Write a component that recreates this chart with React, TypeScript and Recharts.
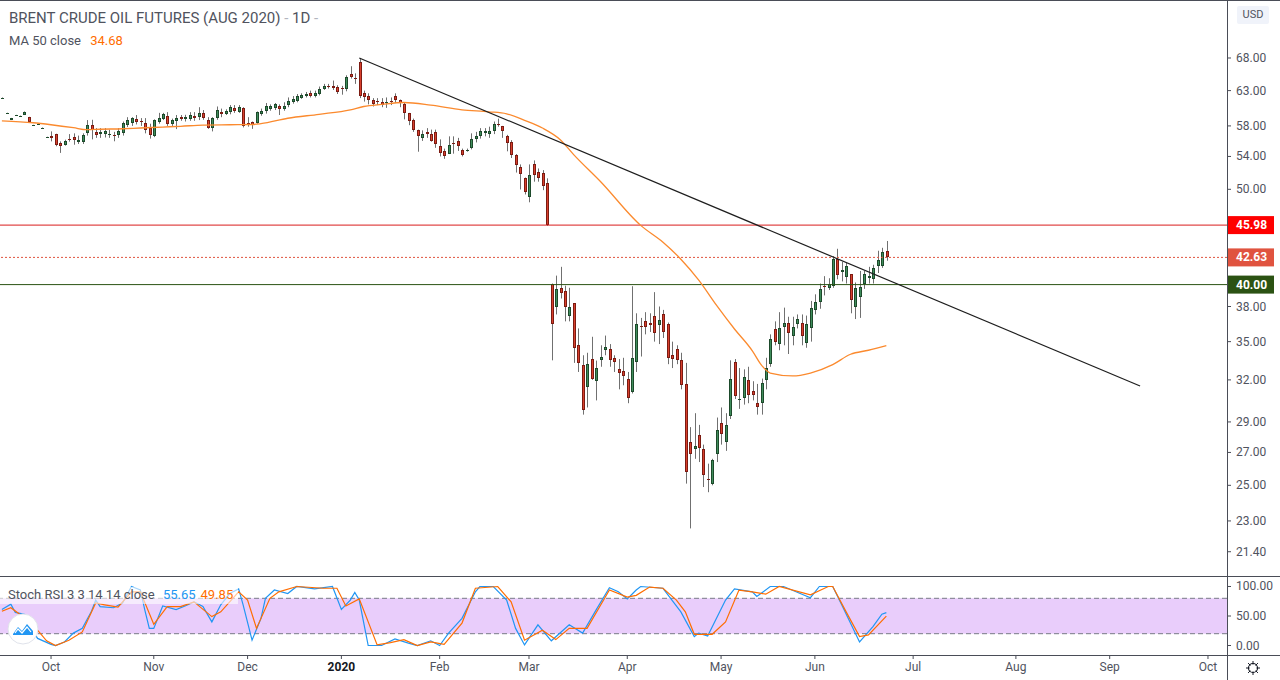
import React from 'react';
import { ComposedChart, Bar, Line, XAxis, YAxis, ReferenceLine, ReferenceArea } from 'recharts';

// daily OHLC, Brent Aug 2020, from mid Sep 2019 to 23 Jun 2020 (bar index = trading day)
const opens = [
  61.9, 59.75, 58.84, 59.47, 59.37, 59.57, 59.21, 58.1, 58.28, 57.74,
  56.5, 56.69, 56.9, 55.73, 55.42, 56.29, 56.52, 55.81, 55.81, 57.0,
  58.12, 57.2, 56.9, 56.95, 56.95, 56.8, 56.73, 57.0, 58.12, 58.35,
  58.97, 58.69, 58.38, 57.7, 56.6, 58.5, 58.9, 59.35, 58.2, 58.67,
  59.21, 58.9, 58.9, 59.4, 59.21, 59.83, 58.84, 57.7, 59.07, 59.9,
  59.7, 59.87, 60.5, 59.98, 60.46, 58.4, 58.47, 58.38, 59.7, 60.0,
  60.37, 60.46, 60.7, 60.37, 60.94, 61.3, 61.55, 61.99, 62.2, 62.67,
  62.28, 62.48, 63.2, 63.68, 63.7, 63.55, 63.38, 63.2, 65.5, 64.92,
  67.3, 62.62, 62.2, 61.65, 61.42, 61.4, 61.2, 61.5, 62.2, 61.65,
  61.06, 59.77, 58.84, 57.4, 56.4, 57.2, 56.9, 57.14, 55.3, 54.65,
  54.35, 55.76, 56.03, 54.87, 54.7, 55.1, 56.25, 56.6, 57.1, 56.9,
  57.3, 58.26, 57.95, 56.7, 55.86, 54.23, 52.65, 51.3, 49.1, 53.1,
  52.1, 51.96, 50.7, 40.04, 38.0, 39.7, 39.37, 37.2, 38.3, 34.74,
  33.15, 31.5, 33.6, 31.9, 33.55, 34.3, 34.4, 33.7, 32.84, 32.7,
  32.1, 31.1, 33.4, 36.3, 36.75, 36.6, 37.2, 36.4, 37.3, 36.5,
  33.9, 34.4, 33.5, 31.7, 27.7, 27.2, 28.1, 27.2, 25.4, 25.1,
  26.9, 28.9, 27.7, 29.4, 33.4, 30.5, 30.7, 32.0, 31.2, 30.3,
  30.3, 32.0, 33.2, 36.05, 34.8, 36.2, 36.6, 35.5, 36.5, 36.6,
  34.9, 36.1, 37.7, 38.4, 39.9, 39.7, 39.9, 42.5, 41.2, 40.7,
  41.0, 38.0, 38.9, 40.1, 40.6, 40.5, 41.8, 41.8, 43.3,
];
const highs = [
  62.0, 59.82, 59.1, 59.52, 59.42, 60.0, 59.25, 58.15, 58.33, 57.79,
  56.55, 57.26, 56.95, 55.94, 56.16, 56.9, 57.0, 56.7, 57.0, 58.8,
  58.84, 57.7, 57.7, 57.7, 57.49, 57.2, 57.7, 58.6, 59.2, 59.2,
  59.5, 59.07, 59.07, 58.3, 58.9, 59.8, 59.8, 59.9, 59.0, 59.5,
  59.5, 59.53, 59.9, 59.9, 60.6, 60.2, 59.2, 59.2, 60.7, 60.4,
  60.3, 60.9, 60.9, 60.9, 60.6, 59.2, 58.6, 60.0, 60.4, 61.2,
  61.0, 61.2, 61.0, 61.3, 62.0, 62.2, 62.5, 62.6, 62.8, 63.0,
  63.0, 63.6, 64.0, 64.0, 64.5, 63.8, 63.7, 65.3, 66.7, 65.6,
  68.0, 63.0, 62.6, 61.9, 61.9, 61.9, 62.0, 62.0, 62.6, 61.7,
  61.3, 59.8, 59.0, 57.5, 57.4, 57.7, 57.5, 57.5, 56.2, 55.0,
  56.6, 56.6, 56.4, 55.0, 55.0, 57.0, 57.2, 57.7, 57.7, 57.9,
  58.6, 59.0, 58.0, 56.8, 56.1, 54.3, 53.0, 51.4, 53.0, 53.5,
  52.5, 52.3, 51.3, 40.1, 40.85, 41.7, 39.9, 39.7, 38.3, 36.1,
  33.9, 34.1, 35.4, 33.48, 34.7, 35.5, 34.8, 33.9, 33.6, 33.7,
  32.6, 39.85, 37.4, 37.0, 37.5, 37.4, 39.3, 38.0, 37.7, 36.6,
  35.0, 34.7, 34.1, 33.3, 28.65, 29.6, 28.8, 27.5, 26.3, 26.6,
  29.3, 30.0, 29.6, 33.5, 33.6, 32.9, 32.8, 33.0, 31.9, 31.7,
  32.1, 33.7, 35.6, 36.7, 37.5, 37.9, 37.1, 37.1, 37.3, 37.3,
  37.2, 38.5, 39.1, 40.1, 40.8, 40.6, 42.75, 43.5, 42.2, 42.1,
  41.0, 40.2, 41.3, 41.3, 41.7, 41.9, 43.3, 43.6, 44.3,
];
const lows = [
  61.85, 59.72, 58.8, 59.45, 59.35, 59.5, 58.55, 58.08, 58.26, 57.72,
  56.48, 55.94, 55.3, 54.45, 55.38, 55.9, 55.5, 55.6, 55.6, 56.7,
  56.2, 56.4, 56.4, 56.45, 56.4, 55.95, 56.4, 56.7, 57.85, 58.0,
  58.2, 58.0, 57.0, 56.3, 56.5, 58.3, 58.8, 58.0, 58.0, 57.57,
  58.7, 58.6, 58.7, 58.7, 58.8, 58.84, 57.6, 57.26, 58.84, 59.2,
  59.5, 59.6, 59.8, 59.8, 57.8, 57.9, 57.6, 58.3, 59.4, 59.7,
  60.1, 60.2, 59.5, 60.1, 60.6, 61.1, 61.3, 61.8, 62.0, 62.0,
  62.0, 62.3, 63.1, 63.3, 63.1, 62.5, 62.4, 62.9, 64.8, 64.0,
  61.9, 61.4, 61.0, 60.7, 60.9, 60.6, 60.5, 60.9, 61.2, 60.6,
  58.9, 58.1, 57.2, 54.6, 56.0, 56.4, 55.9, 55.1, 54.0, 53.7,
  54.3, 54.35, 54.7, 54.0, 54.6, 54.9, 55.8, 56.3, 56.6, 56.4,
  56.9, 57.9, 56.4, 54.65, 53.8, 52.0, 49.98, 49.4, 48.5, 50.9,
  50.9, 49.9, 45.9, 33.5, 37.3, 38.72, 36.7, 36.7, 33.3, 32.6,
  29.5, 30.0, 32.0, 30.5, 33.0, 33.9, 33.0, 32.6, 31.3, 31.6,
  30.3, 31.0, 32.6, 33.8, 35.6, 35.8, 35.0, 34.8, 35.3, 33.2,
  32.9, 33.2, 31.3, 25.1, 22.6, 26.6, 26.4, 24.9, 24.6, 25.0,
  26.4, 27.5, 27.1, 29.2, 30.6, 29.9, 30.2, 30.3, 30.5, 29.5,
  29.5, 31.3, 33.0, 34.7, 34.3, 34.7, 34.0, 34.7, 36.1, 34.7,
  34.5, 35.0, 37.3, 37.8, 39.0, 39.5, 39.7, 40.5, 40.3, 40.1,
  37.4, 36.9, 37.0, 39.6, 40.1, 40.1, 41.1, 41.6, 42.3,
];
const closes = [
  61.95, 59.8, 59.07, 59.5, 59.4, 59.9, 58.6, 58.12, 58.3, 57.76,
  56.52, 56.34, 55.51, 55.3, 56.03, 56.07, 56.07, 56.16, 56.82, 58.12,
  57.4, 56.73, 57.2, 57.25, 56.97, 56.76, 57.35, 58.38, 58.8, 59.1,
  58.6, 58.65, 57.4, 56.73, 58.8, 59.1, 59.66, 58.27, 58.8, 59.14,
  58.94, 59.21, 59.44, 59.05, 59.83, 59.07, 57.7, 59.11, 60.23, 59.7,
  60.1, 60.56, 60.13, 60.66, 57.95, 58.36, 58.16, 59.9, 60.1, 60.7,
  60.84, 61.03, 60.33, 60.84, 61.45, 61.8, 62.28, 62.38, 62.57, 62.28,
  62.62, 63.26, 63.74, 63.63, 63.35, 62.86, 63.34, 65.0, 65.1, 64.88,
  62.2, 62.1, 61.65, 61.06, 61.38, 60.94, 61.4, 61.3, 61.6, 61.2,
  59.8, 58.7, 57.4, 56.6, 56.9, 56.95, 56.0, 55.6, 54.5, 54.1,
  55.5, 55.7, 55.3, 54.23, 54.85, 56.3, 56.7, 57.26, 57.35, 57.35,
  58.26, 58.08, 57.3, 55.73, 54.15, 52.9, 51.85, 49.7, 51.76, 51.7,
  51.3, 50.37, 45.98, 36.5, 39.58, 39.2, 37.96, 37.96, 34.5, 33.3,
  29.8, 33.2, 32.1, 32.9, 33.8, 34.6, 33.5, 33.4, 32.5, 32.3,
  30.7, 33.7, 36.5, 36.2, 36.2, 36.4, 35.7, 36.8, 35.8, 33.7,
  33.6, 33.55, 31.6, 25.8, 26.9, 27.4, 27.3, 25.6, 25.3, 26.5,
  28.45, 28.2, 28.8, 32.1, 30.8, 30.6, 32.2, 30.9, 30.9, 30.05,
  31.8, 32.9, 35.2, 34.95, 36.1, 36.55, 35.7, 36.2, 36.9, 35.5,
  36.5, 37.9, 38.4, 39.6, 39.8, 40.1, 42.45, 40.9, 41.35, 41.8,
  38.6, 39.7, 39.8, 41.0, 40.8, 41.6, 42.35, 43.2, 42.63,
];

// MA 50 close, read at sample bars
const maIdx = [0, 7, 11, 16, 19, 22, 27, 31, 36, 40, 45, 51, 56, 58, 64, 71, 78, 81, 85, 90, 96, 103, 109, 113, 117, 121, 125, 128, 134, 143, 148, 152, 156, 160, 164, 168, 170, 172, 177, 181, 186, 190, 194, 198];
const maVals = [58.7, 58.43, 58.16, 57.76, 57.49, 57.55, 57.62, 57.72, 57.85, 57.95, 58.12, 58.16, 58.19, 58.3, 59.05, 59.6, 60.23, 60.7, 61.0, 61.27, 60.9, 60.23, 59.95, 59.67, 58.77, 57.72, 56.16, 54.23, 50.92, 45.95, 44.17, 42.45, 40.42, 38.1, 36.05, 34.25, 33.14, 32.52, 32.3, 32.52, 33.17, 33.98, 34.3, 34.68];

// trend line end points
const trendIdx = [80, 254.8];
const trendVals = [68.0, 31.55];

// Stoch RSI %K and %D
const kIdx = [0, 2, 3, 5, 6, 8, 11, 12, 14, 16, 18, 20, 21, 22, 25, 27, 29, 31, 32, 33, 34, 36, 39, 41, 43, 45, 47, 49, 51, 53, 54, 56, 58, 59, 61, 64, 66, 70, 74, 76, 78, 79, 80, 82, 85, 88, 91, 93, 96, 98, 100, 103, 106, 107, 110, 113, 115, 117, 120, 123, 127, 130, 133, 136, 138, 140, 142, 143, 148, 150, 152, 155, 156, 158, 162, 164, 168, 169, 172, 175, 181, 183, 186, 188, 192, 195, 197, 198];
const kVals = [61, 70, 56, 53, 35, 12, 2, 0, 6, 21, 29, 57, 77, 66, 64, 72, 100, 94, 60, 29, 29, 67, 61, 67, 74, 66, 40, 69, 88, 96, 69, 9, 46, 80, 94, 88, 100, 96, 100, 61, 77, 90, 77, 0, 0, 11, 4, 0, 8, 0, 21, 46, 91, 100, 100, 77, 29, 1, 35, 8, 35, 21, 60, 98, 91, 79, 94, 100, 97, 77, 57, 15, 21, 16, 77, 96, 91, 83, 100, 100, 81, 100, 100, 69, 6, 32, 53, 55.65];
const dIdx = [0, 2, 4, 7, 10, 12, 15, 18, 21, 23, 26, 29, 31, 34, 37, 40, 43, 47, 49, 53, 55, 57, 60, 62, 66, 72, 75, 77, 80, 84, 87, 90, 93, 96, 99, 103, 106, 111, 114, 117, 121, 124, 127, 131, 136, 140, 142, 145, 148, 151, 153, 155, 159, 162, 165, 168, 171, 174, 181, 185, 186, 189, 192, 194, 198];
const dVals = [58, 64, 53, 35, 8, 0, 9, 23, 72, 69, 65, 91, 91, 36, 66, 66, 74, 49, 57, 91, 77, 29, 80, 91, 100, 97, 97, 67, 79, 1, 5, 10, 0, 6, 2, 38, 97, 100, 74, 9, 26, 10, 29, 29, 94, 82, 85, 99, 97, 77, 57, 19, 19, 40, 94, 91, 87, 100, 86, 100, 100, 57, 15, 18, 49.85];

const priceTicks = [68, 63, 58, 54, 50, 45.98, 42.63, 40, 38, 35, 32, 29, 27, 25, 23, 21.4];
const stochTicks = [0, 50, 100];
const monthIdx = [11, 34, 55, 76, 98, 118, 140, 161, 182, 204, 227, 248, 270];
const monthLabels = ['Oct', 'Nov', 'Dec', '2020', 'Feb', 'Mar', 'Apr', 'May', 'Jun', 'Jul', 'Aug', 'Sep', 'Oct'];

const candles = opens.map((o, i) => ({ i, o, h: highs[i], l: lows[i], c: closes[i], range: [lows[i], highs[i]] }));
const maData = maIdx.map((i, n) => ({ i, v: maVals[n] }));
const trendData = trendIdx.map((i, n) => ({ i, v: trendVals[n] }));
const kData = kIdx.map((i, n) => ({ i, v: kVals[n] }));
const dData = dIdx.map((i, n) => ({ i, v: dVals[n] }));

const X_DOMAIN = [-0.425, 274.26];
const TEXT = '#50535e';
const LINE = '#4a4d57';
const TAGS: Record<string, string> = { '45.98': '#ff0000', '42.63': '#e0533f', '40': '#2b5213' };

const Candle = (props: any) => {
  const { x, y, width, height, payload } = props;
  if (x == null || y == null || !payload) return null;
  const top = Math.min(y, y + height);
  const bot = Math.max(y, y + height);
  const lh = Math.log(payload.h);
  const ll = Math.log(payload.l);
  const py = (v: number) => (lh === ll ? top : top + ((lh - Math.log(v)) / (lh - ll)) * (bot - top));
  const up = payload.c >= payload.o;
  const cx = Math.round(x + width / 2);
  const bTop = Math.round(Math.min(py(payload.o), py(payload.c)));
  const bBot = Math.round(Math.max(py(payload.o), py(payload.c)));
  const fill = up ? '#3f8d5c' : '#d8402d';
  const border = up ? '#1d4a2b' : '#7c1b12';
  return (
    <g>
      <line x1={cx + 0.5} x2={cx + 0.5} y1={top} y2={bot} stroke="#707070" strokeWidth={1} />
      {bBot - bTop < 3 ? (
        <rect x={cx - 1} y={bTop} width={3} height={Math.max(1, bBot - bTop)} fill={border} />
      ) : (
        <rect x={cx - 0.5} y={bTop + 0.5} width={2} height={bBot - bTop - 1} fill={fill} stroke={border} strokeWidth={1} />
      )}
    </g>
  );
};

const AxisTick = (props: any) => {
  const { x, y, payload } = props;
  const v = payload.value;
  const tag = TAGS[String(v)];
  const label = Number(v).toFixed(2);
  if (tag) {
    return (
      <g>
        <line x1={x - 9} x2={x - 7} y1={y} y2={y} stroke={tag} />
        <rect x={x - 8} y={y - 9} width={46} height={18} fill={tag} />
        <text x={x} y={y} dy={4} fill="#fff" fontSize={12} fontWeight="bold">{label}</text>
      </g>
    );
  }
  return (
    <g>
      <line x1={x - 9} x2={x - 5} y1={y} y2={y} stroke={LINE} />
      <text x={x} y={y} dy={4} fill={TEXT} fontSize={12}>{label}</text>
    </g>
  );
};

const MonthTick = (props: any) => {
  const { x, y, payload } = props;
  const label = monthLabels[monthIdx.indexOf(payload.value)];
  const strong = label === '2020';
  return (
    <text x={x} y={y} dy={10} textAnchor="middle" fontSize={12} fill={strong ? '#131722' : TEXT} fontWeight={strong ? 'bold' : 'normal'}>
      {label}
    </text>
  );
};

const App: React.FC = () => {
  return (
    <div style={{ position: 'relative', width: 1280, height: 680, background: '#fff', overflow: 'hidden', fontFamily: "Roboto, 'Liberation Sans', sans-serif" }}>
      <style>{'body{margin:0}'}</style>

      <div style={{ position: 'absolute', left: 0, top: 0 }}>
        <ComposedChart width={1280} height={577} data={candles} margin={{ top: 0, right: 0, bottom: 0, left: 0 }}>
          <XAxis dataKey="i" type="number" domain={X_DOMAIN} allowDataOverflow hide />
          <YAxis orientation="right" width={53} scale="log" domain={[20.17, 77.89]} allowDataOverflow ticks={priceTicks} interval={0}
            tick={<AxisTick />} tickLine={false} axisLine={false} tickSize={9} tickMargin={0} />
          <ReferenceLine y={45.98} stroke="#d91c1c" />
          <ReferenceLine y={42.63} stroke="#e0533f" strokeDasharray="2 2" />
          <ReferenceLine y={40} stroke="#2b5213" />
          <Bar dataKey="range" barSize={3} shape={Candle} isAnimationActive={false} />
          <Line data={maData} dataKey="v" type="monotone" stroke="#fb8a2e" strokeWidth={1.3} dot={false} activeDot={false} isAnimationActive={false} />
          <Line data={trendData} dataKey="v" type="linear" stroke="#1e1e1e" strokeWidth={1.2} dot={false} activeDot={false} isAnimationActive={false} />
        </ComposedChart>
      </div>

      <div style={{ position: 'absolute', left: 0, top: 577 }}>
        <ComposedChart width={1280} height={103} data={kData} margin={{ top: 0, right: 0, bottom: 0, left: 0 }}>
          <XAxis dataKey="i" type="number" domain={X_DOMAIN} allowDataOverflow ticks={monthIdx} interval={0} height={25}
            axisLine={false} tickLine={{ stroke: LINE }} tickSize={4} tick={<MonthTick />} />
          <YAxis orientation="right" width={53} domain={[-16.1, 116.1]} allowDataOverflow ticks={stochTicks} interval={0}
            tick={<AxisTick />} tickLine={false} axisLine={false} tickSize={9} tickMargin={0} />
          <ReferenceArea y1={20} y2={80} fill="#e9cdfb" fillOpacity={1} stroke="none" />
          <ReferenceLine y={80} stroke="#787b86" strokeDasharray="5 3" />
          <ReferenceLine y={20} stroke="#787b86" strokeDasharray="5 3" />
          <Line data={kData} dataKey="v" type="linear" stroke="#2196f3" strokeWidth={1.2} dot={false} activeDot={false} isAnimationActive={false} />
          <Line data={dData} dataKey="v" type="linear" stroke="#ff6d00" strokeWidth={1.2} dot={false} activeDot={false} isAnimationActive={false} />
        </ComposedChart>
      </div>

      {/* pane frame */}
      <div style={{ position: 'absolute', left: 0, top: 0, width: 1280, height: 1, background: LINE }} />
      <div style={{ position: 'absolute', left: 0, top: 576, width: 1280, height: 1, background: LINE }} />
      <div style={{ position: 'absolute', left: 0, top: 655, width: 1280, height: 1, background: LINE }} />
      <div style={{ position: 'absolute', left: 1227, top: 0, width: 1, height: 680, background: LINE }} />

      {/* legends */}
      <div style={{ position: 'absolute', left: 9, top: 8, fontSize: 15, lineHeight: '20px', color: TEXT, whiteSpace: 'nowrap' }}>
        BRENT CRUDE OIL FUTURES (AUG 2020) <span style={{ color: '#b2b5be' }}>-</span> 1D <span style={{ color: '#b2b5be' }}>-</span>
      </div>
      <div style={{ position: 'absolute', left: 9, top: 33, fontSize: 13, lineHeight: '16px', color: TEXT, whiteSpace: 'nowrap' }}>
        MA 50 close <span style={{ color: '#ff6d00', marginLeft: 6 }}>34.68</span>
      </div>
      <div style={{ position: 'absolute', left: 0, top: 587, width: 238, height: 17, background: 'rgba(255,255,255,0.6)' }} />
      <div style={{ position: 'absolute', left: 8, top: 587, fontSize: 13, lineHeight: '16px', color: TEXT, whiteSpace: 'nowrap' }}>
        Stoch RSI 3 3 14 14 close <span style={{ color: '#2196f3', marginLeft: 5 }}>55.65</span>
        <span style={{ color: '#ff6d00', marginLeft: 5 }}>49.85</span>
      </div>

      {/* USD badge */}
      <div style={{ position: 'absolute', left: 1237, top: 6, width: 32, height: 18, background: '#f0f3fa', borderRadius: 2, color: TEXT, fontSize: 11, lineHeight: '18px', textAlign: 'center' }}>
        USD
      </div>

      {/* logo */}
      <svg style={{ position: 'absolute', left: 6, top: 612 }} width={34} height={34}>
        <circle cx={17} cy={17} r={15} fill="#fff" stroke="#e0e3eb" />
        <path d="M7 22 L12 15 L16 19 L21 12 L27 19 L27 23 L7 23 Z" fill="#2196f3" />
        <path d="M9 21 L12 17 L16 21 L21 15 L25 20" fill="none" stroke="#fff" strokeWidth={1.2} />
      </svg>

      {/* settings gear */}
      <svg style={{ position: 'absolute', left: 1245, top: 660 }} width={16} height={16}>
        <circle cx={8} cy={8} r={4.5} fill="none" stroke="#131722" strokeWidth={1.2} />
        {[0, 45, 90, 135].map((a) => (
          <line key={a} x1={8 - 7 * Math.cos((a * Math.PI) / 180)} y1={8 - 7 * Math.sin((a * Math.PI) / 180)}
            x2={8 + 7 * Math.cos((a * Math.PI) / 180)} y2={8 + 7 * Math.sin((a * Math.PI) / 180)} stroke="#131722" strokeWidth={1} />
        ))}
        <circle cx={8} cy={8} r={3.5} fill="#fff" />
      </svg>
    </div>
  );
};

export default App;
